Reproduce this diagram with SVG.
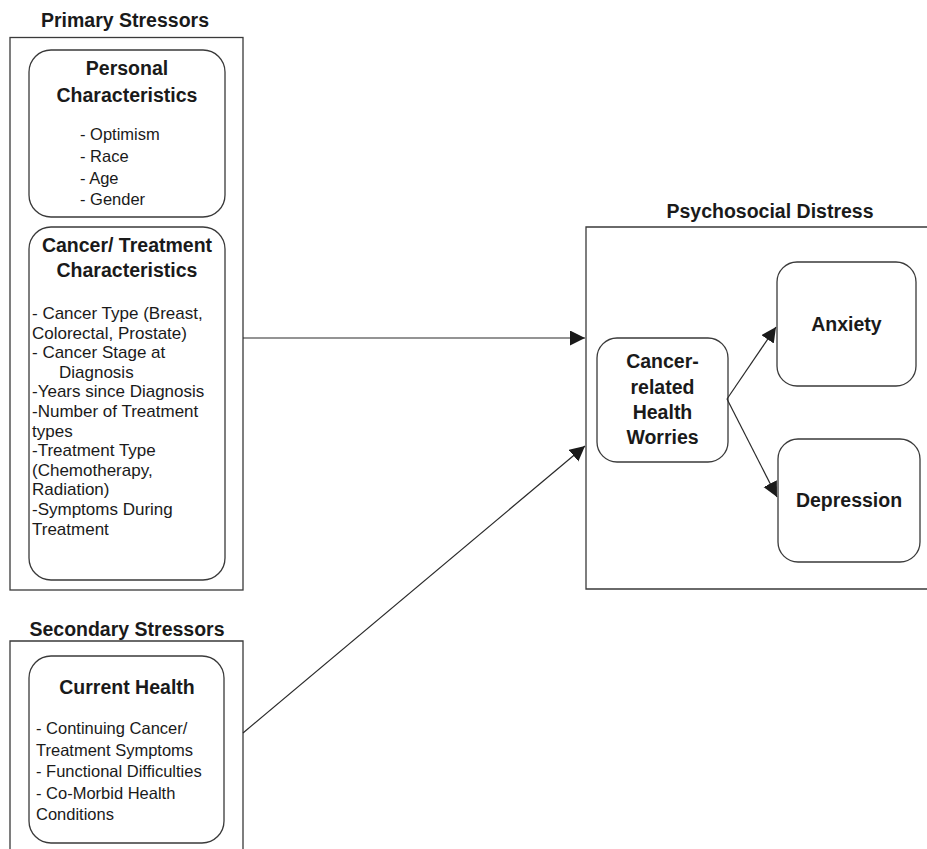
<svg xmlns="http://www.w3.org/2000/svg" width="927" height="849" viewBox="0 0 927 849">
<defs>
<style>
.frame{fill:none;stroke:#3a3a3a;stroke-width:1.3}
.node{fill:#fff;stroke:#3a3a3a;stroke-width:1.3}
.title{font-family:"Liberation Sans",Arial,sans-serif;font-weight:bold;font-size:19.5px;fill:#1a1a1a;text-anchor:middle}
.item{font-family:"Liberation Sans",Arial,sans-serif;font-size:16.5px;fill:#1a1a1a}
.item17{font-family:"Liberation Sans",Arial,sans-serif;font-size:17px;fill:#1a1a1a}
.conn{fill:none;stroke:#2a2a2a;stroke-width:1.2}
</style>
<marker id="arrow" markerUnits="userSpaceOnUse" markerWidth="17" markerHeight="17" refX="15" refY="7.5" orient="auto">
<path d="M0,0 L15,7.5 L0,15 z" fill="#1a1a1a"/>
</marker>
</defs>
<rect width="927" height="849" fill="#fff"/>

<g id="primary-stressors">
<text class="title" x="125" y="27">Primary Stressors</text>
<rect class="frame" x="10" y="37.5" width="233" height="552.5"/>
</g>

<g id="personal-characteristics">
<rect class="node" x="29" y="50" width="196" height="167" rx="22"/>
<text class="title" x="127" y="75">Personal</text>
<text class="title" x="127" y="102">Characteristics</text>
<text class="item" x="80" y="140">- Optimism</text>
<text class="item" x="80" y="162">- Race</text>
<text class="item" x="80" y="184">- Age</text>
<text class="item" x="80" y="205">- Gender</text>
</g>

<g id="cancer-treatment-characteristics">
<rect class="node" x="29" y="227" width="196" height="353" rx="22"/>
<text class="title" x="127" y="252">Cancer/ Treatment</text>
<text class="title" x="127" y="277">Characteristics</text>
<text class="item17" x="32" y="319">- Cancer Type (Breast,</text>
<text class="item17" x="32" y="338.6">Colorectal, Prostate)</text>
<text class="item17" x="32" y="358.2">- Cancer Stage at</text>
<text class="item17" x="59" y="377.8">Diagnosis</text>
<text class="item17" x="32" y="397.4">-Years since Diagnosis</text>
<text class="item17" x="32" y="417">-Number of Treatment</text>
<text class="item17" x="32" y="436.6">types</text>
<text class="item17" x="32" y="456.2">-Treatment Type</text>
<text class="item17" x="32" y="475.8">(Chemotherapy,</text>
<text class="item17" x="32" y="495.4">Radiation)</text>
<text class="item17" x="32" y="515">-Symptoms During</text>
<text class="item17" x="32" y="534.6">Treatment</text>
</g>

<g id="secondary-stressors">
<text class="title" x="127" y="636">Secondary Stressors</text>
<path class="frame" d="M10,849 V641 H243 V849"/>
</g>

<g id="current-health">
<rect class="node" x="29" y="656" width="195" height="187" rx="22"/>
<text class="title" x="127" y="694">Current Health</text>
<text class="item" x="36" y="734">- Continuing Cancer/</text>
<text class="item" x="36" y="756">Treatment Symptoms</text>
<text class="item" x="36" y="777">- Functional Difficulties</text>
<text class="item" x="36" y="799">- Co-Morbid Health</text>
<text class="item" x="36" y="820">Conditions</text>
</g>

<g id="psychosocial-distress">
<text class="title" x="770" y="218">Psychosocial Distress</text>
<path class="frame" d="M927,227 H586 V589 H927"/>
</g>

<g id="cancer-related-health-worries">
<rect class="node" x="597" y="338" width="131" height="124" rx="20"/>
<text class="title" x="662.5" y="368">Cancer-</text>
<text class="title" x="662.5" y="394">related</text>
<text class="title" x="662.5" y="419">Health</text>
<text class="title" x="662.5" y="444">Worries</text>
</g>

<g id="anxiety">
<rect class="node" x="777" y="262" width="139" height="124" rx="20"/>
<text class="title" x="846.5" y="331">Anxiety</text>
</g>

<g id="depression">
<rect class="node" x="778" y="439" width="142" height="123" rx="20"/>
<text class="title" x="849" y="507">Depression</text>
</g>

<g id="connectors">
<line class="conn" x1="243" y1="338" x2="585" y2="338" marker-end="url(#arrow)"/>
<line class="conn" x1="243" y1="733" x2="585" y2="446" marker-end="url(#arrow)"/>
<line class="conn" x1="727" y1="399" x2="776" y2="327" marker-end="url(#arrow)"/>
<line class="conn" x1="727" y1="399" x2="777" y2="497" marker-end="url(#arrow)"/>
</g>
</svg>
